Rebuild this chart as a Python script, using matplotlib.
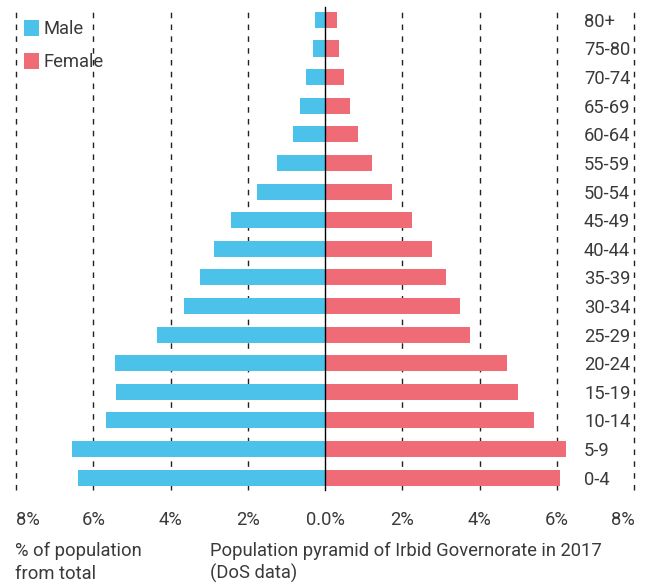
import matplotlib
matplotlib.use("Agg")
import matplotlib.pyplot as plt
from matplotlib.patches import Patch
from matplotlib.transforms import blended_transform_factory, offset_copy

plt.rcParams['font.family'] = ['Roboto', 'DejaVu Sans']

ages = ["0-4", "5-9", "10-14", "15-19", "20-24", "25-29", "30-34", "35-39",
        "40-44", "45-49", "50-54", "55-59", "60-64", "65-69", "70-74", "75-80", "80+"]
male = [6.40, 6.55, 5.68, 5.41, 5.43, 4.34, 3.65, 3.25, 2.88, 2.44, 1.76, 1.25,
        0.84, 0.64, 0.50, 0.32, 0.26]
female = [6.07, 6.24, 5.41, 4.99, 4.71, 3.76, 3.50, 3.12, 2.76, 2.26, 1.72, 1.22,
          0.84, 0.65, 0.48, 0.35, 0.30]
ticks = [-8, -6, -4, -2, 0, 2, 4, 6, 8]
tick_labels = ["8%", "6%", "4%", "2%", "0.0%", "2%", "4%", "6%", "8%"]

male_color = "#4CC1EA"
female_color = "#EF6C77"
text_color = "#3a3a3a"
fs = 13.2

W, H = 646, 587
fig = plt.figure(figsize=(W / 100, H / 100), dpi=100)
x0, x1 = 16, 634.3
y_top, y_bot = 7, 490
ax = fig.add_axes([x0 / W, 1 - y_bot / H, (x1 - x0) / W, (y_bot - y_top) / H])

y = list(range(len(ages)))
ax.barh(y, [-m for m in male], height=0.56, color=male_color, zorder=2)
ax.barh(y, female, height=0.56, color=female_color, zorder=2)

for t in ticks:
    if t == 0:
        ax.axvline(0, color="black", lw=1.0, zorder=3, clip_on=False)
    else:
        ax.axvline(t, color="#222222", lw=1.0, linestyle=(0, (4, 4.5)), zorder=1, clip_on=False)

ax.set_xlim(-8, 8)
ax.set_ylim(-0.43, 16.45)
for s in ax.spines.values():
    s.set_visible(False)
ax.set_yticks([])
ax.set_xticks(ticks)
ax.set_xticklabels(tick_labels, fontsize=fs, color=text_color)
ax.tick_params(axis="x", length=0, pad=15)
lbls = ax.get_xticklabels()
lbls[0].set_horizontalalignment("left")
lbls[-1].set_horizontalalignment("right")

trans = offset_copy(blended_transform_factory(ax.transAxes, ax.transData), fig=fig, x=0, y=-2, units="dots")
lx = (584 - x0) / (x1 - x0)
for i, a in enumerate(ages):
    ax.text(lx, i, a, transform=trans, ha="left", va="center", fontsize=fs, color=text_color)

handles = [Patch(facecolor=male_color, label="Male"), Patch(facecolor=female_color, label="Female")]
ax_w, ax_h = x1 - x0, y_bot - y_top
leg = ax.legend(handles=handles, loc="upper left",
                bbox_to_anchor=((24 - x0) / ax_w, 1 - (20 - y_top) / ax_h), frameon=False,
                fontsize=fs, handlelength=0.83, handleheight=0.95, handletextpad=0.22,
                labelspacing=0.8, borderaxespad=0.0, borderpad=0.0)
for t in leg.get_texts():
    t.set_color(text_color)

fig.text(15 / W, 1 - 562.5 / H, "% of population\nfrom total", ha="left", va="center",
         fontsize=fs, color=text_color, linespacing=1.3)
fig.text(210 / W, 1 - 562.5 / H, "Population pyramid of Irbid Governorate in 2017\n(DoS data)",
         ha="left", va="center", fontsize=fs, color=text_color, linespacing=1.3)

fig.savefig("out.png", dpi=100)
